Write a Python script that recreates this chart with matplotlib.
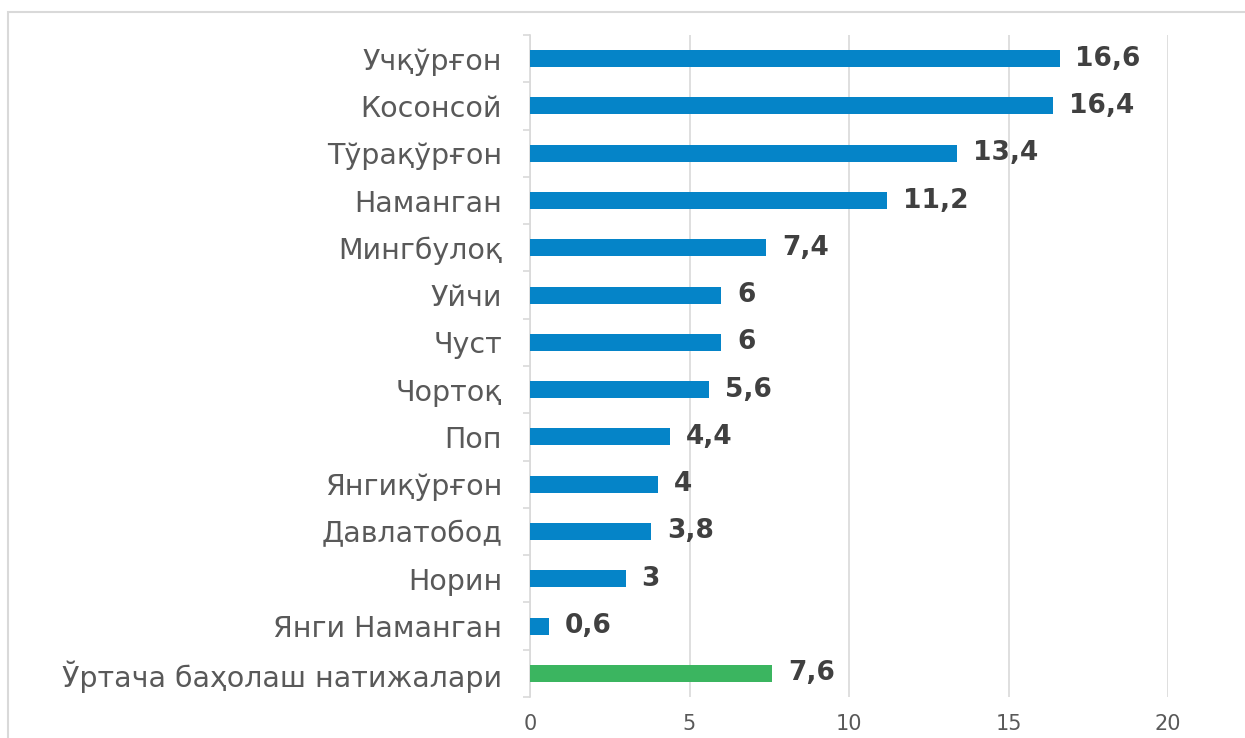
import matplotlib.pyplot as plt
from matplotlib.patches import Rectangle

# -- DATA --
districts = ["Учқўрғон", "Косонсой", "Тўрақўрғон", "Наманган", "Мингбулоқ",
             "Уйчи", "Чуст", "Чортоқ", "Поп", "Янгиқўрғон", "Давлатобод",
             "Норин", "Янги Наманган", "Ўртача баҳолаш натижалари"]
scores = [16.6, 16.4, 13.4, 11.2, 7.4, 6, 6, 5.6, 4.4, 4, 3.8, 3, 0.6, 7.6]
x_ticks = [0, 5, 10, 15, 20]
# -- -- -- --

blue = "#0584c8"
green = "#3bb560"
colors = [blue] * (len(scores) - 1) + [green]

plt.rcParams['font.family'] = ['DejaVu Sans']

fig = plt.figure(figsize=(12.45, 7.38), dpi=100)
ax = fig.add_axes([530 / 1245, 1 - 697 / 738, (1168 - 530) / 1245, (697 - 35) / 738])

# chart border
fig.patches.append(Rectangle((8 / 1245, -0.05), 1.1, 1 - 12 / 738 + 0.05,
                             transform=fig.transFigure, fill=False,
                             edgecolor="#d9d9d9", linewidth=1.5))

ypos = list(range(len(districts)))
ax.barh(ypos, scores, height=0.36, color=colors, zorder=3)

for y, v in zip(ypos, scores):
    label = ("%g" % v).replace(".", ",")
    ax.text(v + 0.5, y, label, va="center", ha="left", fontsize=19,
            fontweight="bold", color="#404040", zorder=4)

ax.set_ylim(len(districts) - 0.5, -0.5)
ax.set_xlim(0, 20)
ax.set_xticks(x_ticks)
ax.set_xticklabels([str(t) for t in x_ticks])
ax.set_yticks(ypos)
ax.set_yticklabels(districts)

# category boundary ticks on the left axis
ax.set_yticks([i - 0.5 for i in range(len(districts) + 1)], minor=True)
ax.tick_params(axis="y", which="major", length=0, pad=20, labelsize=20.5,
               labelcolor="#595959")
ax.tick_params(axis="y", which="minor", length=5, color="#d9d9d9", width=1.2)
ax.tick_params(axis="x", length=0, pad=12, labelsize=15, labelcolor="#595959")

ax.grid(axis="x", color="#d9d9d9", linewidth=1.2, zorder=0)
for s in ["top", "right", "bottom"]:
    ax.spines[s].set_visible(False)
ax.spines["left"].set_color("#d9d9d9")
ax.spines["left"].set_linewidth(1.2)

fig.savefig("out.png", dpi=100)
